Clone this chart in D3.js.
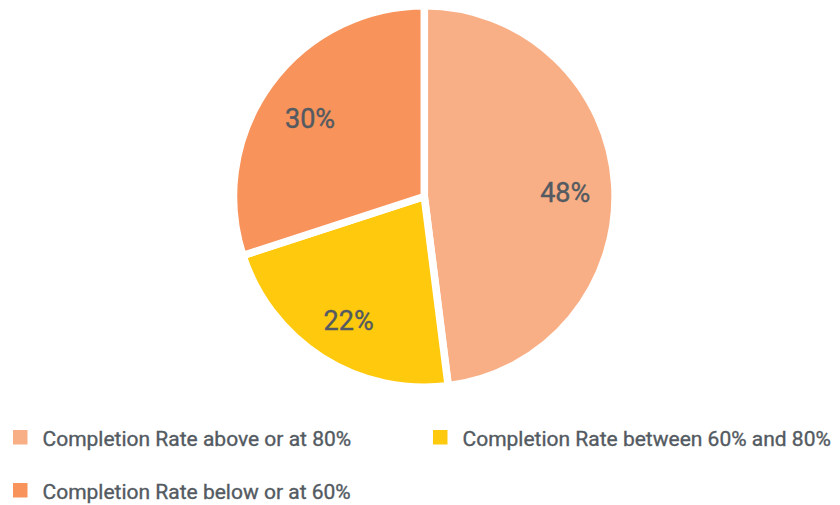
<!DOCTYPE html>
<html><head><meta charset="utf-8">
<script src="https://cdn.jsdelivr.net/npm/d3@7/dist/d3.min.js"></script>
<style>body{margin:0;background:#fff}svg{display:block}</style>
</head><body>
<script>
const categories = ["Completion Rate above or at 80%", "Completion Rate between 60% and 80%", "Completion Rate below or at 60%"];
const values = [48, 22, 30];
const labels = ["48%", "22%", "30%"];
const colors = ["#F9AF85", "#FFC90D", "#F7935B"];

const W = 840, H = 505;
const svg = d3.select("body").append("svg").attr("width", W).attr("height", H);
const cx = 424.3, cy = 196.5, R = 190.8;
const pie = d3.pie().sort(null).value(d => d)(values);
const arc = d3.arc().innerRadius(0).outerRadius(R);
const labelArc = d3.arc().innerRadius(R * 0.74).outerRadius(R * 0.74);
const g = svg.append("g").attr("transform", `translate(${cx},${cy})`);
g.selectAll("path").data(pie).join("path")
  .attr("d", arc).attr("fill", (d, i) => colors[i])
  .attr("stroke", "#fff").attr("stroke-width", 7.5).attr("stroke-linejoin", "round");
g.selectAll("text").data(pie).join("text")
  .attr("transform", d => { const c = labelArc.centroid(d); return `translate(${c[0]},${c[1] + 5})`; })
  .attr("text-anchor", "middle").attr("dominant-baseline", "central")
  .attr("font-family", "Roboto, sans-serif").attr("font-size", 27)
  .attr("stroke", "#535A61").attr("stroke-width", 0.4)
  .attr("fill", "#535A61").text((d, i) => labels[i]);

const legPos = [[13, 430], [433, 430], [13, 483]];
const leg = svg.selectAll("g.leg").data(categories).join("g").attr("class", "leg")
  .attr("transform", (d, i) => `translate(${legPos[i][0]},${legPos[i][1]})`);
leg.append("rect").attr("width", 14.5).attr("height", 14.5).attr("fill", (d, i) => colors[i]);
leg.append("text").attr("x", 29.5).attr("y", 16)
  .attr("font-family", "Roboto, sans-serif").attr("font-size", 21)
  .attr("stroke", "#535A61").attr("stroke-width", 0.35)
  .attr("fill", "#535A61").text(d => d);
</script>
</body></html>
